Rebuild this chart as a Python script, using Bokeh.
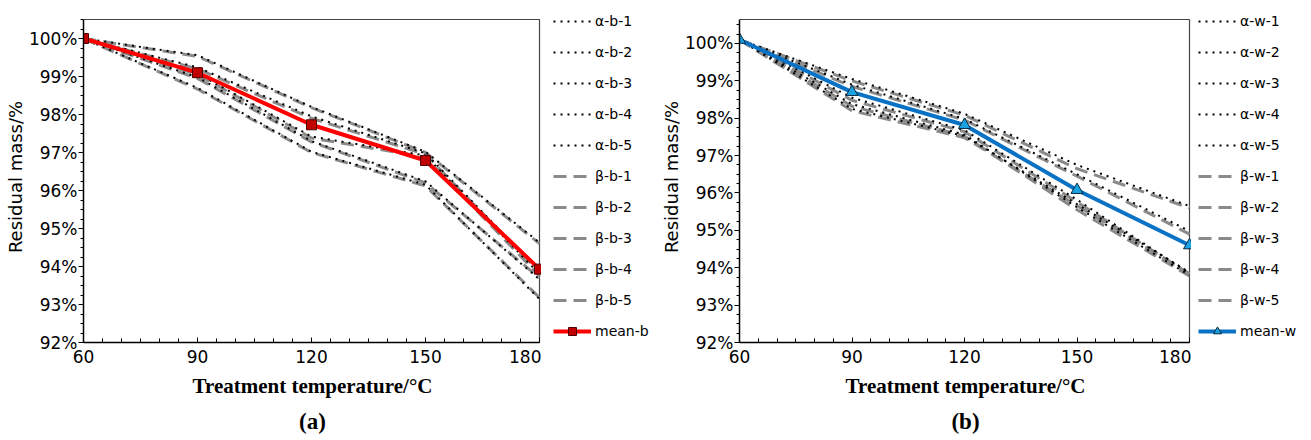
import numpy as np
from bokeh.plotting import figure
from bokeh.models import Range1d, FixedTicker, Legend, LegendItem, Title
from bokeh.layouts import row
from bokeh.embed import file_html
from bokeh.resources import INLINE

# ---------------- data ----------------
temps = [60, 90, 120, 150, 180]
x_ticks = [60, 90, 120, 150, 180]
y_ticks = [92, 93, 94, 95, 96, 97, 98, 99, 100]
y_tick_labels = ["92%", "93%", "94%", "95%", "96%", "97%", "98%", "99%", "100%"]

# panel (a): bark samples
alpha_b_1 = [100.0, 99.56, 98.20, 97.02, 94.63]
alpha_b_2 = [100.0, 99.24, 97.95, 96.98, 93.88]
alpha_b_3 = [100.0, 99.08, 97.42, 96.92, 93.80]
alpha_b_4 = [100.0, 98.98, 97.30, 96.24, 93.66]
alpha_b_5 = [100.0, 98.70, 97.02, 96.15, 93.14]
beta_b_1 = [100.0, 99.53, 98.18, 97.00, 94.60]
beta_b_2 = [100.0, 99.20, 97.90, 96.95, 93.85]
beta_b_3 = [100.0, 99.05, 97.38, 96.88, 93.75]
beta_b_4 = [100.0, 98.95, 97.28, 96.20, 93.70]
beta_b_5 = [100.0, 98.67, 97.00, 96.12, 93.18]
mean_b = [100.0, 99.10, 97.73, 96.79, 93.93]

# panel (b): wood samples
alpha_w_1 = [100.1, 99.05, 98.12, 96.75, 95.65]
alpha_w_2 = [100.1, 98.90, 97.98, 96.50, 94.98]
alpha_w_3 = [100.1, 98.55, 97.68, 95.82, 93.85]
alpha_w_4 = [100.1, 98.38, 97.56, 95.62, 93.80]
alpha_w_5 = [100.1, 98.25, 97.52, 95.70, 93.88]
beta_w_1 = [100.1, 99.00, 98.08, 96.65, 95.60]
beta_w_2 = [100.1, 98.85, 97.95, 96.45, 94.90]
beta_w_3 = [100.1, 98.48, 97.64, 95.76, 93.82]
beta_w_4 = [100.1, 98.32, 97.52, 95.55, 93.78]
beta_w_5 = [100.1, 98.20, 97.48, 95.66, 93.84]
mean_w = [100.1, 98.70, 97.82, 96.08, 94.60]

alpha_b_names = ["α-b-1", "α-b-2", "α-b-3", "α-b-4", "α-b-5"]
beta_b_names = ["β-b-1", "β-b-2", "β-b-3", "β-b-4", "β-b-5"]
alpha_w_names = ["α-w-1", "α-w-2", "α-w-3", "α-w-4", "α-w-5"]
beta_w_names = ["β-w-1", "β-w-2", "β-w-3", "β-w-4", "β-w-5"]

x_label = "Treatment temperature/°C"
y_label = "Residual mass/%"

SANS = "DejaVu Sans"
SERIF = "Liberation Serif"
H = 439
TOP = 11          # frame top (px)
BOTTOM = 342      # frame bottom (px)

ALPHA_STYLE = dict(line_color="black", line_width=2, line_dash="2 5")
BETA_STYLE = dict(line_color="#8a8a8a", line_width=3, line_dash="13 7")


def make_panel(alphas, betas, mean, mean_color, marker, m_fill, m_line, m_size,
               border_left, data_w, extra, box_top_val, box_top_px, tag):
    x0, x1 = x_ticks[0], x_ticks[-1]
    y0 = y_ticks[0]
    x_end = x1 + extra * (x1 - x0) / data_w
    ppu = (BOTTOM - box_top_px) / (box_top_val - y0)
    y_end = y0 + (BOTTOM - TOP) / ppu
    p = figure(width=border_left + data_w + extra, height=H,
               output_backend="svg", toolbar_location=None,
               x_range=Range1d(x0, x_end), y_range=Range1d(y0, y_end),
               min_border_left=border_left, min_border_right=0,
               min_border_top=TOP, min_border_bottom=H - BOTTOM)
    p.grid.visible = False
    p.outline_line_color = None

    # top / right edges of the plot box
    p.line([x0, x1, x1], [box_top_val, box_top_val, y0],
           line_color="#444444", line_width=1.2)

    for ys in betas:
        p.line(temps, ys, **BETA_STYLE)
    for ys in alphas:
        p.line(temps, ys, **ALPHA_STYLE)
    p.line(temps, mean, line_color=mean_color, line_width=4)
    p.scatter(temps, mean, marker=marker, size=m_size, fill_color=m_fill,
              line_color=m_line, line_width=1)

    p.xaxis.ticker = FixedTicker(ticks=x_ticks,
                                 minor_ticks=list(np.arange(x0, x1 + 1, 5)))
    p.yaxis.ticker = FixedTicker(
        ticks=y_ticks,
        minor_ticks=[v for v in np.arange(y0, 100.76, 0.25) if v <= box_top_val])
    p.yaxis.major_label_overrides = {t: l for t, l in zip(y_ticks, y_tick_labels)}
    p.xaxis.bounds = (x0, x1)
    p.yaxis.bounds = (y0, box_top_val)
    for ax in (p.xaxis[0], p.yaxis[0]):
        ax.axis_line_color = "black"
        ax.axis_line_width = 1.5
        ax.major_tick_line_color = "black"
        ax.minor_tick_line_color = "black"
        ax.major_label_text_font = SANS
        ax.major_label_text_font_size = "17px"
        ax.major_label_text_color = "black"
    p.xaxis.major_tick_in = 5
    p.xaxis.major_tick_out = 0
    p.xaxis.minor_tick_in = 4
    p.xaxis.minor_tick_out = 0
    p.xaxis.major_label_standoff = 7
    p.yaxis.major_tick_in = 0
    p.yaxis.major_tick_out = 5
    p.yaxis.minor_tick_in = 0
    p.yaxis.minor_tick_out = 3
    p.yaxis.major_label_standoff = 1

    p.yaxis.axis_label = y_label
    p.yaxis.axis_label_text_font = SANS
    p.yaxis.axis_label_text_font_size = "18px"
    p.yaxis.axis_label_text_font_style = "normal"
    p.yaxis.axis_label_text_color = "black"
    p.yaxis.axis_label_standoff = 0

    p.add_layout(Title(text=x_label, align="center", text_font=SERIF,
                       text_font_size="21px", text_font_style="bold",
                       text_color="black", standoff=13, offset=0), "below")
    p.add_layout(Title(text=tag, align="center", text_font=SERIF,
                       text_font_size="23px", text_font_style="bold",
                       text_color="black", standoff=4, offset=0), "below")
    return p


def make_legend(a_names, b_names, mean_name, mean_color, marker, m_fill,
                m_line, m_size, width, leg_x):
    q = figure(width=width, height=H, output_backend="svg",
               toolbar_location=None, x_range=Range1d(0, 1),
               y_range=Range1d(0, 1), x_axis_type=None, y_axis_type=None,
               min_border_left=0, min_border_right=0, min_border_top=TOP,
               min_border_bottom=H - BOTTOM, outline_line_color=None)
    q.grid.visible = False
    # sample glyphs kept outside the visible range: only their legend swatches show
    off = [5, 6]
    items = []
    for n in a_names:
        r = q.line(off, off, **ALPHA_STYLE)
        items.append(LegendItem(label=n, renderers=[r]))
    for n in b_names:
        r = q.line(off, off, **BETA_STYLE)
        items.append(LegendItem(label=n, renderers=[r]))
    ml = q.line(off, off, line_color=mean_color, line_width=4)
    ms = q.scatter(off, off, marker=marker, size=m_size, fill_color=m_fill,
                   line_color=m_line, line_width=1)
    items.append(LegendItem(label=mean_name, renderers=[ml, ms]))
    leg = Legend(items=items, location=(leg_x, 1), glyph_width=38,
                 glyph_height=20, label_height=20, spacing=11, padding=0,
                 margin=0, label_standoff=4, label_text_font=SANS,
                 label_text_font_size="14px", label_text_color="black",
                 border_line_alpha=0, background_fill_alpha=0)
    q.add_layout(leg)
    return q


p1 = make_panel([alpha_b_1, alpha_b_2, alpha_b_3, alpha_b_4, alpha_b_5],
                [beta_b_1, beta_b_2, beta_b_3, beta_b_4, beta_b_5],
                mean_b, "#ff0000", "square", "#c00000", "#500000", 10,
                border_left=83, data_w=456, extra=2,
                box_top_val=100.5, box_top_px=19, tag="(a)")
l1 = make_legend(alpha_b_names, beta_b_names, "mean-b", "#ff0000", "square",
                 "#c00000", "#500000", 10, width=109, leg_x=12)
p2 = make_panel([alpha_w_1, alpha_w_2, alpha_w_3, alpha_w_4, alpha_w_5],
                [beta_w_1, beta_w_2, beta_w_3, beta_w_4, beta_w_5],
                mean_w, "#0a72c4", "triangle", "#1aa3e0", "#0a2a44", 12,
                border_left=89, data_w=450, extra=2,
                box_top_val=100.642, box_top_px=19, tag="(b)")
l2 = make_legend(alpha_w_names, beta_w_names, "mean-w", "#0a72c4", "triangle",
                 "#1aa3e0", "#0a2a44", 12, width=118, leg_x=7)

layout = row(p1, l1, p2, l2)
open("out.html", "w").write(file_html(layout, INLINE))
